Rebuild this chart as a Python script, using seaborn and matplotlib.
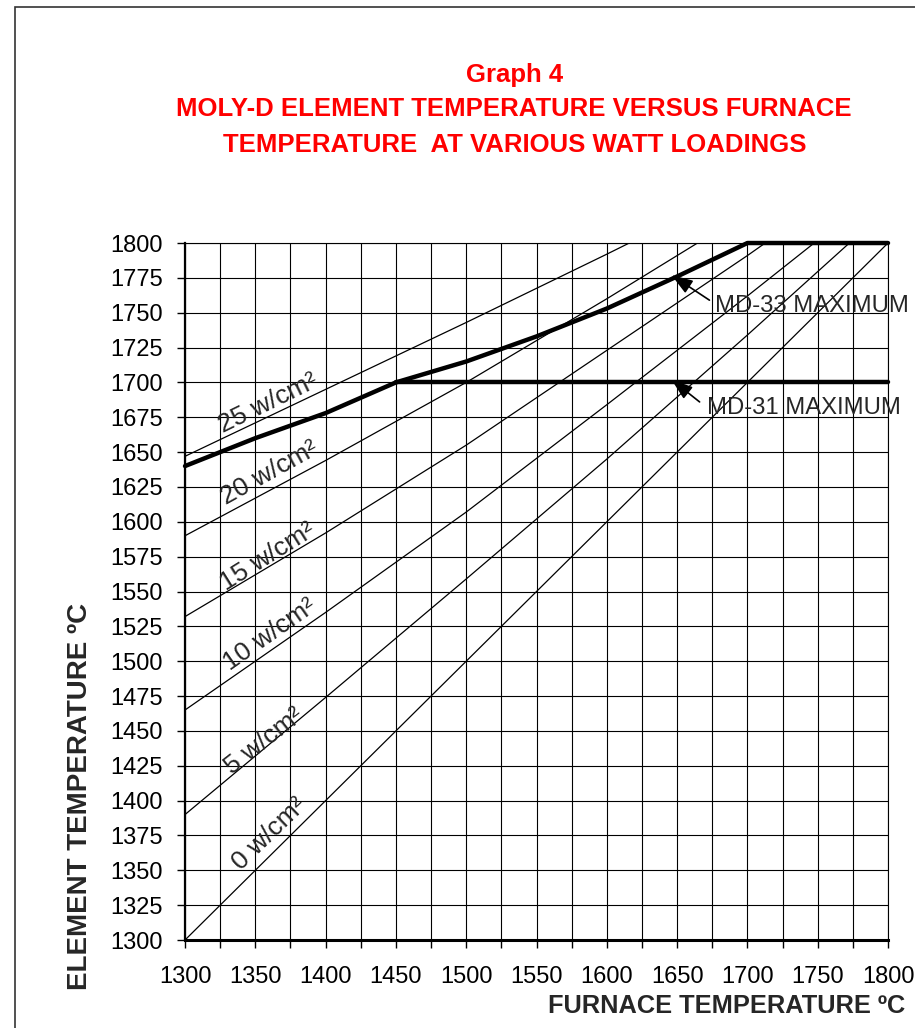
import numpy as np
import pandas as pd
import matplotlib
matplotlib.use('Agg')
import matplotlib.pyplot as plt
import seaborn as sns
from matplotlib.patches import Rectangle

# ==============================================================================
# DATA
# ==============================================================================
furnace = [1300, 1400, 1500, 1600, 1700, 1800]
w25 = [1647, 1695, 1743, 1792, 1842, 1892]
w20 = [1590, 1644, 1700, 1760, 1822, 1885]
w15 = [1532, 1592, 1655, 1723, 1791, 1862]
w10 = [1465, 1535, 1607, 1684, 1762, 1842]
w5 = [1390, 1474, 1559, 1645, 1734, 1825]
w0 = [1300, 1400, 1500, 1600, 1700, 1800]
loads = ['25', '20', '15', '10', '5', '0']

md33_x = [1300, 1350, 1400, 1450, 1500, 1550, 1600, 1650, 1700, 1800]
md33_y = [1640, 1660, 1678, 1700, 1715, 1733, 1753, 1776, 1800, 1800]
md31_x = [1450, 1800]
md31_y = [1700, 1700]

x_ticks = list(range(1300, 1801, 50))
y_ticks = list(range(1300, 1801, 25))

# long-form table for the watt loading lines
series = [w25, w20, w15, w10, w5, w0]
df = pd.DataFrame({
    'furnace': furnace * len(series),
    'element': sum(series, []),
    'load': [l for l in loads for _ in furnace],
})

# ==============================================================================
# PLOT
# ==============================================================================
sns.set_theme(style='white')
plt.rcParams['font.family'] = ['Liberation Sans', 'DejaVu Sans']

fig = plt.figure(figsize=(9.15, 10.28), dpi=100)
ax = fig.add_axes([0.2022, 0.0856, 0.7683, 0.678])

sns.lineplot(data=df, x='furnace', y='element', hue='load', palette=['black'] * 6,
             estimator=None, sort=False, legend=False, lw=0.9, ax=ax)
sns.lineplot(x=md33_x, y=md33_y, color='black', lw=3.2, estimator=None, sort=False,
             clip_on=False, ax=ax)
sns.lineplot(x=md31_x, y=md31_y, color='black', lw=3.2, estimator=None, sort=False,
             clip_on=False, ax=ax)

ax.set_xlim(1300, 1800)
ax.set_ylim(1300, 1800)
ax.set_xticks(x_ticks)
ax.set_xticks([t + 25 for t in x_ticks[:-1]], minor=True)
ax.set_yticks(y_ticks)
ax.grid(True, which='both', color='black', lw=0.8)
ax.tick_params(axis='both', which='both', direction='out', length=6, width=1,
               colors='black', bottom=True, left=True)
ax.tick_params(axis='y', labelsize=17, pad=10)
ax.tick_params(axis='x', labelsize=17, pad=13)
ax.set_xlabel('')
ax.set_ylabel('')
for side, lw in [('left', 1.6), ('bottom', 2.2), ('top', 0.8), ('right', 0.8)]:
    ax.spines[side].set_color('black')
    ax.spines[side].set_linewidth(lw)

# line labels
label_pos = [(1359, 1685, 26), (1360, 1635, 29), (1359, 1575, 32),
             (1360, 1519, 35), (1356, 1443, 38), (1360, 1376, 44)]
for w, (lx, ly, rot) in zip(loads, label_pos):
    ax.text(lx, ly, f'{w} w/cm²', fontsize=19, rotation=rot, rotation_mode='anchor',
            ha='center', va='center')

# maximum annotations
arrow = dict(arrowstyle='-|>,head_length=1.3,head_width=0.45', color='black',
             lw=1.2, shrinkA=0, shrinkB=0, mutation_scale=10)
ax.annotate('', xy=(1646, 1777), xytext=(1673, 1759), arrowprops=arrow)
ax.annotate('', xy=(1646, 1702), xytext=(1666, 1686), arrowprops=arrow)
ax.text(1677, 1755, 'MD-33 MAXIMUM', fontsize=17.2, ha='left', va='center')
ax.text(1671, 1682, 'MD-31 MAXIMUM', fontsize=17.2, ha='left', va='center')

# titles
red = '#ff0000'
fig.text(0.562, 1 - 75 / 1028, 'Graph 4', color=red, fontsize=18.5,
         fontweight='bold', ha='center', va='center')
fig.text(0.561, 1 - 109 / 1028, 'MOLY-D ELEMENT TEMPERATURE VERSUS FURNACE', color=red,
         fontsize=18.5, fontweight='bold', ha='center', va='center')
fig.text(0.563, 1 - 145 / 1028, 'TEMPERATURE  AT VARIOUS WATT LOADINGS', color=red,
         fontsize=18.5, fontweight='bold', ha='center', va='center')

fig.text(80 / 915, 1 - 796 / 1028, 'ELEMENT TEMPERATURE ºC', fontsize=20,
         fontweight='bold', rotation=90, ha='center', va='center')
fig.text(548 / 915, 1 - 1006 / 1028, 'FURNACE TEMPERATURE ºC', fontsize=18.3,
         fontweight='bold', ha='left', va='center')

# outer frame
fig.patches.append(Rectangle((15 / 915, -0.1), 1.2, 1.1 - 7 / 1028, transform=fig.transFigure,
                             fill=False, ec='#333333', lw=1.2))

fig.savefig('out.png', dpi=100, facecolor='white')
